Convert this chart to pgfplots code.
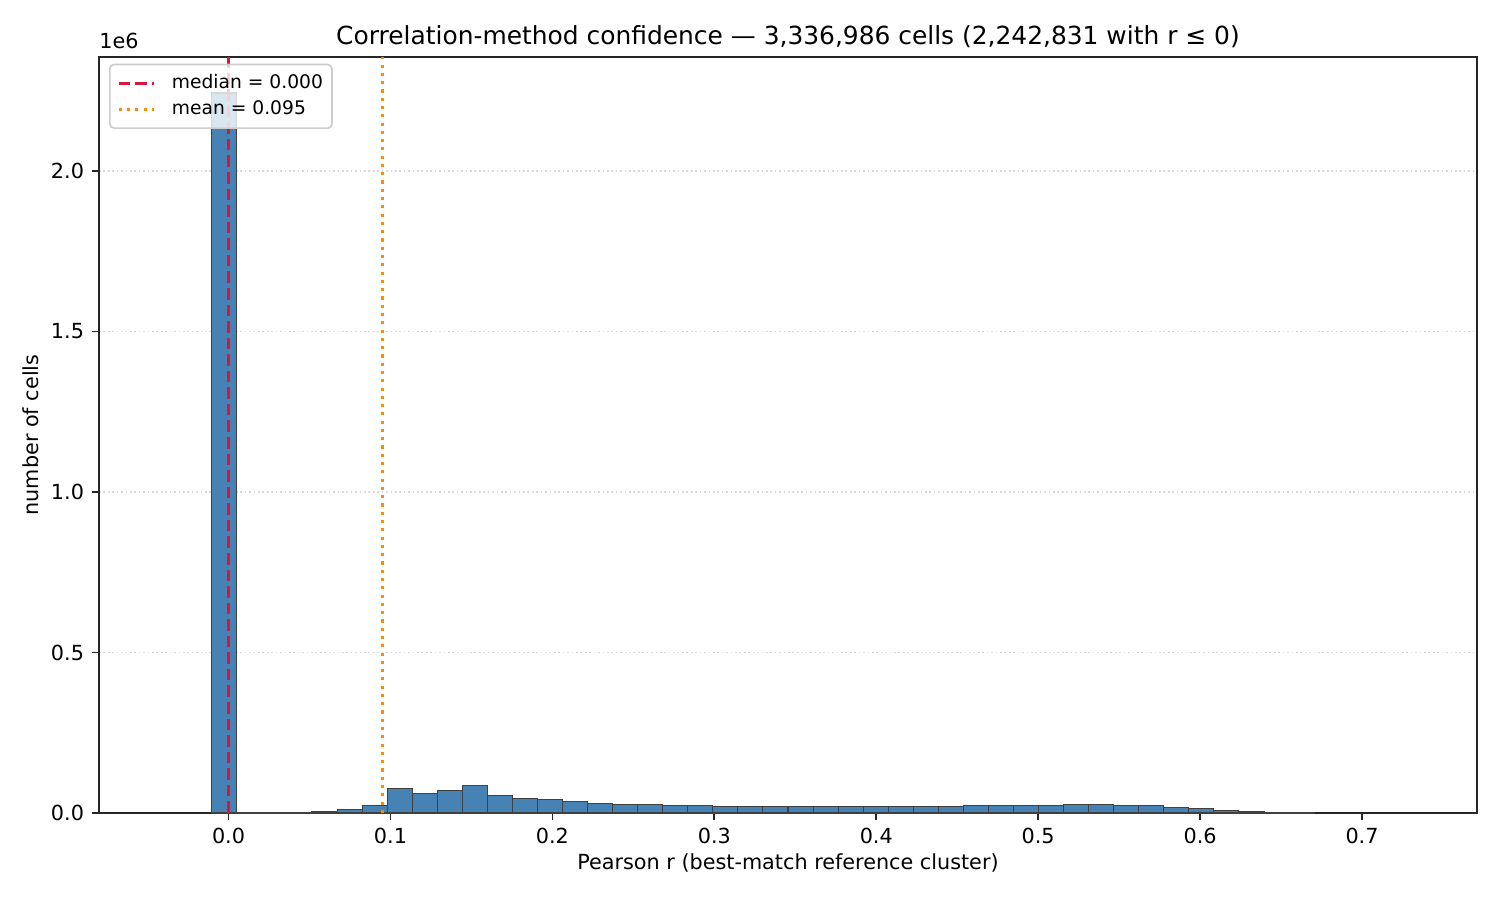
\documentclass[border=0pt]{standalone}
\usepackage{fontspec}
\setmainfont{DejaVu Sans}
\usepackage{pgfplots}
\pgfplotsset{compat=1.18}
\usepackage{pgfplotstable}
\definecolor{steelblue}{HTML}{4682B4}
\definecolor{crimson}{HTML}{DC143C}
\definecolor{darkorange}{HTML}{FF8C00}
\definecolor{gridgray}{HTML}{D9D9D9}
\definecolor{legendedge}{HTML}{CCCCCC}

\pgfplotstableread{
x y
-0.010356 2242831
0.005116 0
0.020588 0
0.036060 800
0.051532 4500
0.067004 10500
0.082476 23500
0.097948 76000
0.113420 61000
0.128892 70000
0.144364 86000
0.159836 55000
0.175308 45500
0.190780 42000
0.206252 35500
0.221724 29500
0.237196 26500
0.252668 26500
0.268140 23500
0.283612 23500
0.299084 20500
0.314556 20500
0.330028 20500
0.345500 20500
0.360972 20500
0.376444 20500
0.391916 20500
0.407388 20500
0.422860 20500
0.438332 20500
0.453804 23500
0.469276 23500
0.484748 23500
0.500220 23500
0.515692 26500
0.531164 26500
0.546636 23500
0.562108 23500
0.577580 17000
0.593052 14000
0.608524 7500
0.623996 4000
0.639468 1500
0.654940 600
0.670412 0
}\histdata

\begin{document}
\begin{tikzpicture}
\begin{axis}[
  at={(0,0)}, anchor=south west,
  scale only axis,
  width=661.44bp, height=362.88bp,
  xmin=-0.0800, xmax=0.7710,
  ymin=0, ymax=2354973,
  axis line style={line width=0.8bp, black!85},
  tick style={line width=0.8bp, black!85},
  major tick length=3.5bp,
  tick align=outside,
  xtick pos=left, ytick pos=left,
  xtick={0,0.1,0.2,0.3,0.4,0.5,0.6,0.7},
  xticklabels={0.0,0.1,0.2,0.3,0.4,0.5,0.6,0.7},
  ytick={0,500000,1000000,1500000,2000000},
  yticklabels={0.0,0.5,1.0,1.5,2.0},
  scaled y ticks=false,
  /pgf/number format/assume math mode=true,
  ticklabel style={font=\fontsize{10}{12}\selectfont},
  xticklabel style={inner sep=0pt, yshift=-3.5bp},
  yticklabel style={inner sep=0pt, xshift=-3.5bp},
  ymajorgrids,
  major grid style={gridgray, line width=0.8bp, dash pattern=on 0.8bp off 1.32bp},
  xlabel={Pearson r (best-match reference cluster)},
  ylabel={number of cells},
  label style={font=\fontsize{10}{12}\selectfont},
  xlabel style={at={(axis description cs:0.5,0)}, anchor=center, yshift=-24bp},
  ylabel style={at={(axis description cs:0,0.5)}, anchor=center, rotate=0, yshift=32.6bp},
  title={Correlation-method confidence — 3,336,986 cells (2,242,831 with r ≤ 0)},
  title style={font=\fontsize{12}{14}\selectfont, at={(axis description cs:0.5,1)}, anchor=base, yshift=0bp, inner sep=0pt},
  legend style={at={(axis description cs:0,1)}, anchor=north west, xshift=4.8bp, yshift=-3.2bp,
    font=\fontsize{9}{11}\selectfont, draw=legendedge, line width=0.8bp, rounded corners=2bp,
    fill=white, fill opacity=0.8, text opacity=1, inner xsep=3.5bp, inner ysep=2.8bp, row sep=0.5bp, column sep=7bp,
    nodes={inner xsep=0.8bp}},
  legend cell align=left,
  clip mode=individual,
]
\addplot[ybar interval, fill=steelblue, draw=black!75, line width=0.5bp, forget plot] table[x=x, y=y] {\histdata};
\addplot[crimson, line width=1.5bp, dash pattern=on 5.55bp off 2.4bp] coordinates {(0,0) (0,2354973)};
\addlegendentry{median = 0.000}
\addplot[darkorange, line width=1.5bp, dash pattern=on 1.5bp off 2.475bp] coordinates {(0.095,0) (0.095,2354973)};
\addlegendentry{mean = 0.095}
\node[anchor=base west, inner sep=0pt, font=\fontsize{10}{12}\selectfont] at (rel axis cs:0,1) [yshift=3.84bp] {1e6};
\end{axis}
\pgfresetboundingbox
\path[use as bounding box] (-47.52bp,-41.76bp) rectangle (672.48bp,390.24bp);
\end{tikzpicture}
\end{document}
